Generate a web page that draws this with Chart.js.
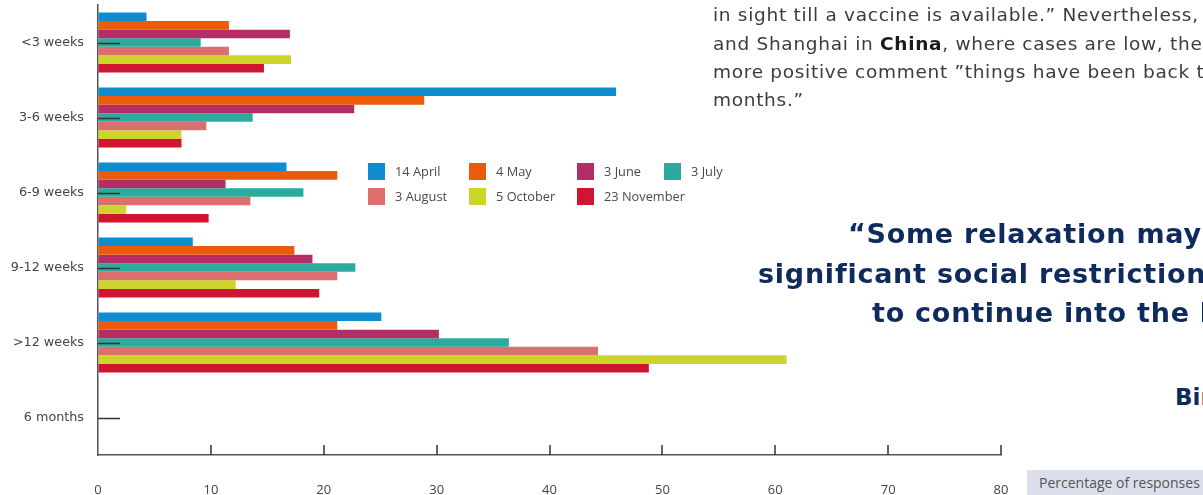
<!DOCTYPE html>
<html>
<head>
<meta charset="utf-8">
<script src="https://cdn.jsdelivr.net/npm/chart.js@4/dist/chart.umd.min.js"></script>
<style>
    body { margin: 0; background: #fff; }
    #page { position: relative; width: 1203px; height: 495px; overflow: hidden; font-family: 'Open Sans', sans-serif; }
    #chartBox { position: absolute; left: 0; top: 0; width: 1010px; height: 495px; }
    .legend-item { position: absolute; font-size: 12.8px; color: #4a4a4a; line-height: 17px; white-space: nowrap; }
    .legend-item span { display: inline-block; width: 17px; height: 17px; vertical-align: top; margin-right: 10px; }
    .para { position: absolute; left: 713px; font-family: 'DejaVu Sans', sans-serif; font-size: 18.5px; letter-spacing: 0.7px; line-height: 28px; color: #3c3c3c; white-space: nowrap; }
    .para b { color: #1a1a1a; font-weight: 700; }
    .quote { position: absolute; font-family: 'DejaVu Sans', sans-serif; font-size: 27px; letter-spacing: 0.75px; line-height: 40px; font-weight: 700; color: #0f2a5c; white-space: nowrap; }
    #source { position: absolute; left: 1175px; top: 382px; font-family: 'DejaVu Sans', sans-serif; font-size: 23px; line-height: 30px; font-weight: 700; color: #0f2a5c; white-space: nowrap; }
    #xTitle { position: absolute; left: 1027px; top: 470px; width: 200px; height: 25px; background: #dcdfeb; color: #555; font-size: 14px; line-height: 25px; padding-left: 12px; box-sizing: border-box; white-space: nowrap; }
</style>
</head>
<body>
<div id="page">
    <div id="chartBox"><canvas id="durationChart"></canvas></div>
    <div id="legend"></div>

    <div class="para" style="top:1px">in sight till a vaccine is available.” Nevertheless, in Beijing</div>
    <div class="para" style="top:30px">and Shanghai in <b>China</b>, where cases are low, there was a</div>
    <div class="para" style="top:58px">more positive comment ”things have been back to normal for</div>
    <div class="para" style="top:86px">months.”</div>

    <div class="quote" style="left:848px; top:214px">“Some relaxation may be</div>
    <div class="quote" style="left:758px; top:254px">significant social restrictions are</div>
    <div class="quote" style="left:872px; top:293px">to continue into the longer</div>
    <div id="source">Birmingham</div>

    <div id="xTitle">Percentage of responses</div>
</div>

<script>
// Dados do gráfico
const categorias = ['<3 weeks', '3-6 weeks', '6-9 weeks', '9-12 weeks', '>12 weeks', '6 months'];
const rotulosX = [0, 10, 20, 30, 40, 50, 60, 70, 80];

const datas = ['14 April', '4 May', '3 June', '3 July', '3 August', '5 October', '23 November'];
const cores = ['#0e8ccf', '#ea5b0c', '#b52d66', '#2aab9d', '#dc6e6e', '#cdd52a', '#cf1530'];

const abril14 = [4.3, 45.9, 16.7, 8.4, 25.1, 0];
const maio4 = [11.6, 28.9, 21.2, 17.4, 21.2, 0];
const junho3 = [17.0, 22.7, 11.3, 19.0, 30.2, 0];
const julho3 = [9.1, 13.7, 18.2, 22.8, 36.4, 0];
const agosto3 = [11.6, 9.6, 13.5, 21.2, 44.3, 0];
const outubro5 = [17.1, 7.4, 2.5, 12.2, 61.0, 0];
const novembro23 = [14.7, 7.4, 9.8, 19.6, 48.8, 0];

const series = [abril14, maio4, junho3, julho3, agosto3, outubro5, novembro23];

// Legenda em HTML posicionada dentro do gráfico
function buildLegend() {
    const legend = document.getElementById('legend');
    const colX = [368, 469, 577, 664];
    const rowY = [163, 188];
    datas.forEach((label, i) => {
        const item = document.createElement('div');
        item.className = 'legend-item';
        item.style.left = colX[i % 4] + 'px';
        item.style.top = rowY[Math.floor(i / 4)] + 'px';
        item.innerHTML = '<span style="background:' + cores[i] + '"></span>' + label;
        legend.appendChild(item);
    });
}

// Marcas dos eixos desenhadas para dentro da área do gráfico
const axisMarks = {
    id: 'axisMarks',
    afterDatasetsDraw(chart) {
        const ctx = chart.ctx;
        const x = chart.scales.x;
        const y = chart.scales.y;
        ctx.save();
        ctx.strokeStyle = '#333';
        ctx.lineWidth = 1.5;
        ctx.beginPath();
        rotulosX.forEach(v => {
            if (v === 0) return;
            const px = Math.round(x.getPixelForValue(v));
            ctx.moveTo(px, y.bottom);
            ctx.lineTo(px, y.bottom - 10);
        });
        categorias.forEach((c, i) => {
            const py = Math.round(y.getPixelForValue(i)) + 0.5;
            ctx.moveTo(x.left, py);
            ctx.lineTo(x.left + 22, py);
        });
        ctx.stroke();
        ctx.restore();
    }
};

document.addEventListener('DOMContentLoaded', function() {
    buildLegend();

    const ctx = document.getElementById('durationChart').getContext('2d');
    new Chart(ctx, {
        type: 'bar',
        data: {
            labels: categorias,
            datasets: series.map((valores, i) => ({
                label: datas[i],
                data: valores,
                backgroundColor: cores[i],
                borderWidth: 0,
                categoryPercentage: 0.8,
                barPercentage: 1.0
            }))
        },
        options: {
            indexAxis: 'y',
            responsive: true,
            maintainAspectRatio: false,
            animation: false,
            layout: { padding: { top: 5, right: 9, left: 0, bottom: 0 } },
            plugins: {
                legend: { display: false },
                tooltip: { enabled: false }
            },
            scales: {
                x: {
                    min: 0,
                    max: 80,
                    afterBuildTicks: scale => { scale.ticks = rotulosX.map(v => ({ value: v })); },
                    afterFit: scale => {
                        scale.height = 40;
                        scale.paddingLeft = 0;
                        scale.paddingRight = 0;
                    },
                    grid: { drawOnChartArea: false, drawTicks: false },
                    border: { display: true, color: '#555', width: 1.5 },
                    ticks: {
                        padding: 27,
                        color: '#444',
                        font: { family: 'Open Sans', size: 13 },
                        maxRotation: 0
                    }
                },
                y: {
                    afterFit: scale => {
                        scale.width = 98;
                        scale.paddingTop = 0;
                        scale.paddingBottom = 0;
                    },
                    grid: { drawOnChartArea: false, drawTicks: false },
                    border: { display: true, color: '#555', width: 1.5 },
                    ticks: {
                        padding: 14,
                        color: '#444',
                        font: { family: 'DejaVu Sans', size: 12.75 }
                    }
                }
            }
        },
        plugins: [axisMarks]
    });
});
</script>
</body>
</html>
